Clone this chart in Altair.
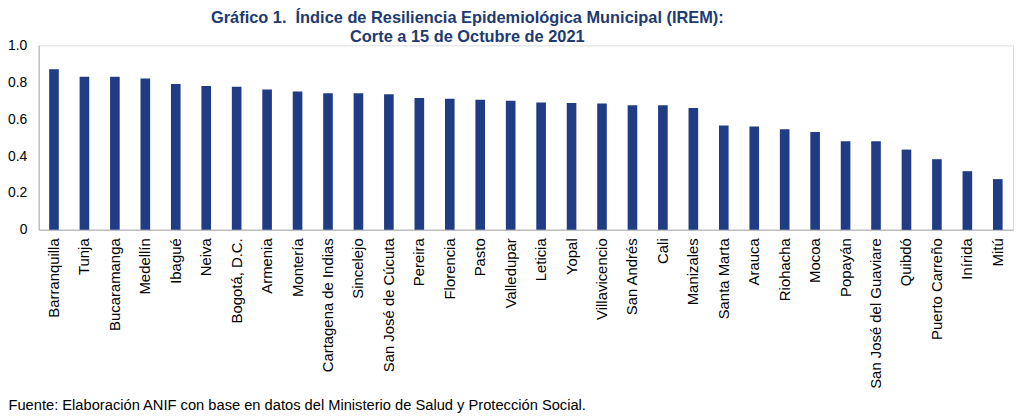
import altair as alt
import pandas as pd

cities = ["Barranquilla", "Tunja", "Bucaramanga", "Medellín", "Ibagué", "Neiva",
          "Bogotá, D.C.", "Armenia", "Montería", "Cartagena de Indias", "Sincelejo",
          "San José de Cúcuta", "Pereira", "Florencia", "Pasto", "Valledupar",
          "Leticia", "Yopal", "Villavicencio", "San Andrés", "Cali", "Manizales",
          "Santa Marta", "Arauca", "Riohacha", "Mocoa", "Popayán",
          "San José del Guaviare", "Quibdó", "Puerto Carreño", "Inírida", "Mitú"]
irem = [0.870, 0.830, 0.830, 0.820, 0.790, 0.780, 0.775, 0.760, 0.750, 0.740, 0.740,
        0.735, 0.715, 0.710, 0.705, 0.700, 0.690, 0.688, 0.685, 0.675, 0.675, 0.660,
        0.565, 0.560, 0.545, 0.530, 0.480, 0.480, 0.435, 0.383, 0.318, 0.275]
y_ticks = [0, 0.2, 0.4, 0.6, 0.8, 1.0]

title_lines = ["Gráfico 1.\u00a0 Índice de Resiliencia Epidemiológica Municipal (IREM):",
               "Corte a 15 de Octubre de 2021"]
footer = "Fuente: Elaboración ANIF con base en datos del Ministerio de Salud y Protección Social."

df = pd.DataFrame({"ciudad": cities, "irem": irem})

font = "Liberation Sans"

chart = alt.Chart(df).mark_bar(color="#1F3C84").encode(
    x=alt.X("ciudad:N", sort=None,
            scale=alt.Scale(paddingInner=0.684, paddingOuter=0.342),
            axis=alt.Axis(title=footer, labelAngle=-90, labelFont=font,
                          labelFontSize=15, labelColor="#000000", labelPadding=8,
                          ticks=False, domainColor="#BFBFBF", domainWidth=1.5,
                          titleFont=font, titleFontSize=14.8, titleFontWeight="normal",
                          titleColor="#000000", titleAnchor="start", titleAlign="left",
                          titleX=-31, titleY=177, titleBaseline="middle", titleAngle=0)),
    y=alt.Y("irem:Q", scale=alt.Scale(domain=[0, 1]),
            axis=alt.Axis(title=None, values=y_ticks,
                          labelExpr="datum.value == 0 ? '0' : format(datum.value, '.1f')",
                          labelFont=font, labelFontSize=14,
                          labelColor="#000000", labelPadding=12, ticks=False,
                          grid=False, domainColor="#BFBFBF", domainWidth=1.5)),
).properties(
    width=982,
    height=186,
    padding={"left": 31, "top": 36, "right": 3, "bottom": 189},
    autosize=alt.AutoSizeParams(type="none"),
    title=alt.TitleParams(text=title_lines, font=font, fontSize=16.5,
                          fontWeight="bold", color="#213A70", anchor="middle",
                          dx=-59, dy=7, offset=0, lineHeight=19),
).configure_view(stroke=None).configure(background="white")

chart.save("out.html", embed_options={"renderer": "svg", "actions": False})
